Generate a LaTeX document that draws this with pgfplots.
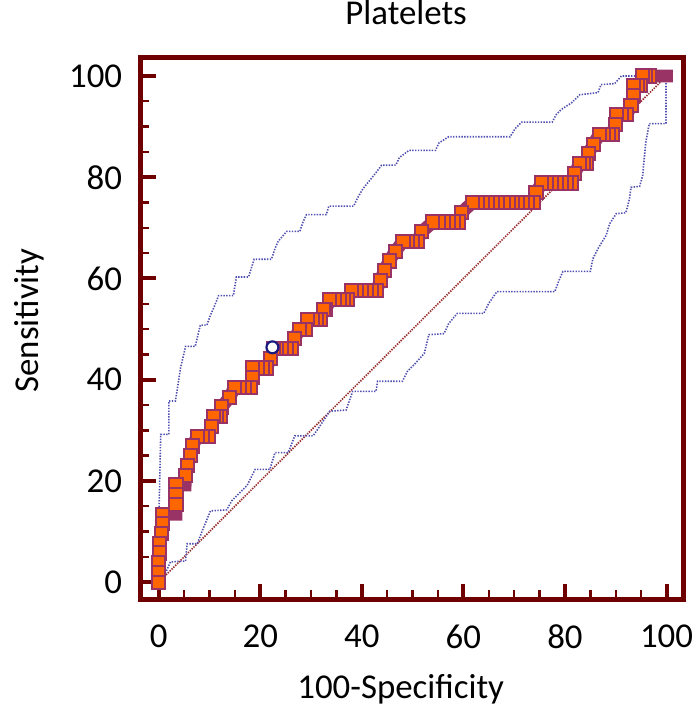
\documentclass[border=0pt]{standalone}
\usepackage{fontspec}
\setmainfont{Carlito}
\usepackage{pgfplots}
\pgfplotsset{compat=1.18}

\definecolor{framecol}{HTML}{6E0000}
\definecolor{rocline}{HTML}{993366}
\definecolor{rocfill}{HTML}{FF6600}
\definecolor{bandcol}{HTML}{4F4FB0}
\definecolor{diagcol}{HTML}{9A2E2E}
\definecolor{critcol}{HTML}{1A1A80}

\begin{document}
\begin{tikzpicture}
\begin{axis}[
    name=ax,
    scale only axis,
    width=272.85pt, height=272pt,
    xmin=-3.6, xmax=103.4,
    ymin=-3.4, ymax=103.6,
    xtick={0,20,...,100}, ytick={0,20,...,100},
    minor x tick num=3, minor y tick num=3,
    tick pos=left, tick align=inside,
    major tick length=8pt, minor tick length=4.5pt,
    major tick style={line width=2pt, draw=framecol},
    minor tick style={line width=1.2pt, draw=framecol},
    axis line style={line width=2.5pt, draw=framecol},
    /pgf/number format/assume math mode=true,
    tick label style={font=\fontsize{17.5}{20}\selectfont},
    xticklabel style={anchor=north, inner sep=0pt, yshift=-12.5pt},
    yticklabel style={anchor=east, inner sep=0pt, xshift=-9pt},
    title={Platelets},
    title style={font=\fontsize{17.5}{20}\selectfont, inner sep=0pt, at={(axis description cs:0.489,1)}, anchor=base, yshift=10.85pt},
    xlabel={100-Specificity},
    xlabel style={font=\fontsize{17.5}{20}\selectfont, inner sep=0pt, at={(axis description cs:0.479,0)}, anchor=base, yshift=-49.5pt},
    ylabel={Sensitivity},
    ylabel style={font=\fontsize{17.5}{20}\selectfont, inner sep=0pt, at={(axis description cs:-0.204,0.515)}, anchor=center},
    clip=false,
]
% diagonal reference line
\addplot[diagcol, line width=0.85pt, dash pattern=on 0.7pt off 0.6pt] coordinates {(0,0) (100,100)};

% upper confidence band
\addplot[bandcol, line width=0.8pt, dash pattern=on 0.7pt off 0.7pt] coordinates {
(0,0) (0.1,1) (0.1,15.5) (0.4,29.2) (2,29.2) (2,35.8) (3.3,35.8) (4.3,42.3) (5.3,46.6)
(7.2,46.6) (8.2,50.8) (9.5,50.8) (10.2,52.8) (10.8,54.1) (11.8,56.6) (14.7,56.6)
(15.3,60.3) (17.7,60.3) (18.8,63.8) (22.2,63.8) (22.9,65.9) (23.5,67.3) (25.2,69.3)
(27.8,69.3) (28.4,71.1) (29.1,72.6) (33.0,72.6) (33.5,74.3) (38.4,74.3) (39.2,76.0)
(40.2,77.7) (41.5,79.3) (43.1,81.3) (43.9,82.4) (46.7,82.4) (47.4,83.9) (49.3,85.3)
(54.5,85.3) (55.2,86.8) (57.1,88.0) (69.2,88.0) (70.2,89.6) (71.5,90.9) (77.5,90.9)
(78.3,92.4) (79.3,93.4) (81.3,94.7) (82.9,96.3) (86.5,96.7) (87.1,98.3) (89.8,98.5)
(91.1,100) (100,100)};

% lower confidence band
\addplot[bandcol, line width=0.8pt, dash pattern=on 0.7pt off 0.7pt] coordinates {
(0,0) (1,1) (2.3,4.0) (5.3,4.2) (5.6,7.6) (7.6,7.6) (8.6,10.2) (10.2,14.1) (13.4,14.3)
(14.4,16.1) (16.0,17.7) (17.4,19.1) (19.0,22.3) (21.9,22.3) (22.9,25.6) (25.5,25.6)
(26.8,28.9) (30.4,28.9) (31.7,30.8) (33.7,33.8) (36.9,34.0) (38.2,37.7) (42.8,37.7)
(43.1,39.7) (48.0,39.7) (49.0,41.7) (50.6,43.3) (52.3,45.2) (53.2,48.9) (56.2,49.1)
(57.1,51.1) (58.8,53.1) (64.0,53.1) (65.0,55.1) (66.6,57.4) (78.0,57.4) (78.7,59.3)
(79.6,61.4) (85.0,61.4) (85.5,63.9) (86.5,65.9) (88.1,68.5) (88.8,70.8) (90.1,72.8)
(92.0,73.0) (92.7,75.7) (93.0,78.0) (94.7,78.2) (95.3,80.3) (95.9,86.8) (96.6,90.6)
(99.9,90.6) (99.9,98.6) (100,100)};

% ROC curve: thick line
\addplot[rocline, line width=6.5pt, line join=miter, line cap=rect] coordinates {
(0,0) (0,1.92) (0,3.85) (0.2,5.77) (0.2,7.69) (0.5,9.62) (0.7,11.54) (0.7,13.46)
(3.4,13.46) (3.4,15.38) (3.4,17.31) (3.4,19.23) (5.2,19.23) (5.3,21.15) (5.7,23.08)
(6.3,25) (6.7,26.92) (7.6,28.85) (9.8,28.85) (10.4,30.77) (10.8,32.69) (12.1,32.69)
(12.4,34.62) (14.0,36.54) (14.9,38.46) (18.0,38.46) (18.5,40.38) (18.5,42.31)
(21.3,42.31) (22.0,44.23) (22.6,46.15) (26.1,46.15) (26.7,48.08) (27.8,50) (28.9,50)
(29.3,51.92) (31.9,51.92) (32.5,53.85) (32.9,53.85) (33.7,55.77) (37.2,55.77)
(38.0,57.69) (42.9,57.69) (43.7,59.62) (44.4,61.54) (45.4,63.46) (46.6,65.38)
(48.1,67.31) (50.9,67.31) (51.8,69.23) (54.0,71.15) (59.0,71.15) (59.7,73.08)
(61.8,75) (73.7,75) (74.3,76.92) (75.4,78.85) (81.2,78.85) (81.9,80.77) (82.9,82.69)
(84.3,82.69) (84.6,84.62) (85.6,86.54) (86.8,88.46) (89.3,88.46) (89.9,90.38)
(90.2,92.31) (92.2,92.31) (93.0,94.23) (93.5,96.15) (93.5,98.08) (94.9,98.08)
(95.3,100) (100,100)};

% ROC points (drawn from top right to bottom left)
\addplot[only marks, mark=square*, mark size=3.3pt,
    mark options={fill=rocfill, draw=rocline, line width=1pt}] coordinates {
(96.7,100) (95.8,100) (95.3,100)
(94.9,98.08) (94.2,98.08) (93.5,98.08)
(93.5,96.15) (93.0,94.23)
(92.2,92.31) (91.2,92.31) (90.2,92.31)
(89.9,90.38)
(89.3,88.46) (88.5,88.46) (87.6,88.46) (86.8,88.46)
(85.6,86.54) (84.6,84.62)
(84.3,82.69) (83.6,82.69) (82.9,82.69)
(81.9,80.77)
(81.2,78.85) (80.2,78.85) (79.3,78.85) (78.3,78.85) (77.3,78.85) (76.4,78.85) (75.4,78.85)
(74.3,76.92)
(73.7,75) (72.7,75) (71.7,75) (70.7,75) (69.7,75) (68.8,75) (67.8,75) (66.8,75)
(65.8,75) (64.8,75) (63.8,75) (62.8,75) (61.8,75)
(59.7,73.08)
(59.0,71.15) (58.0,71.15) (57.0,71.15) (56.0,71.15) (55.0,71.15) (54.0,71.15)
(51.8,69.23)
(50.9,67.31) (50.0,67.31) (49.0,67.31) (48.1,67.31)
(46.6,65.38) (45.4,63.46) (44.4,61.54) (43.7,59.62)
(42.9,57.69) (41.9,57.69) (41.0,57.69) (40.0,57.69) (39.0,57.69) (38.0,57.69)
(37.2,55.77) (36.4,55.77) (35.5,55.77) (34.6,55.77) (33.7,55.77)
(32.9,53.85) (32.5,53.85)
(31.9,51.92) (31.1,51.92) (30.3,51.92) (29.3,51.92)
(28.9,50) (27.8,50)
(26.7,48.08)
(26.1,46.15) (25.1,46.15) (24.2,46.15) (23.2,46.15) (22.6,46.15)
(22.0,44.23)
(21.3,42.31) (20.4,42.31) (19.4,42.31) (18.5,42.31)
(18.5,40.38)
(18.0,38.46) (16.9,38.46) (15.9,38.46) (14.9,38.46)
(14.0,36.54) (12.4,34.62)
(12.1,32.69) (11.4,32.69) (10.8,32.69)
(10.4,30.77)
(9.8,28.85) (8.7,28.85) (7.6,28.85)
(6.7,26.92) (6.3,25) (5.7,23.08) (5.3,21.15)
(3.4,19.23) (3.4,17.31) (3.4,15.38)
(0.7,13.46) (0.7,11.54) (0.5,9.62) (0.2,7.69) (0.2,5.77) (0,3.85) (0,1.92) (0,0)};

% criterion point
\addplot[only marks, mark=*, mark size=3pt,
    mark options={fill=white, draw=critcol, line width=1.1pt}] coordinates {(22.4,46.4)};
\end{axis}
\path ([xshift=-70.5pt,yshift=-53.5pt]ax.south west) rectangle ([xshift=5.15pt,yshift=27.5pt]ax.north east);
\end{tikzpicture}
\end{document}
